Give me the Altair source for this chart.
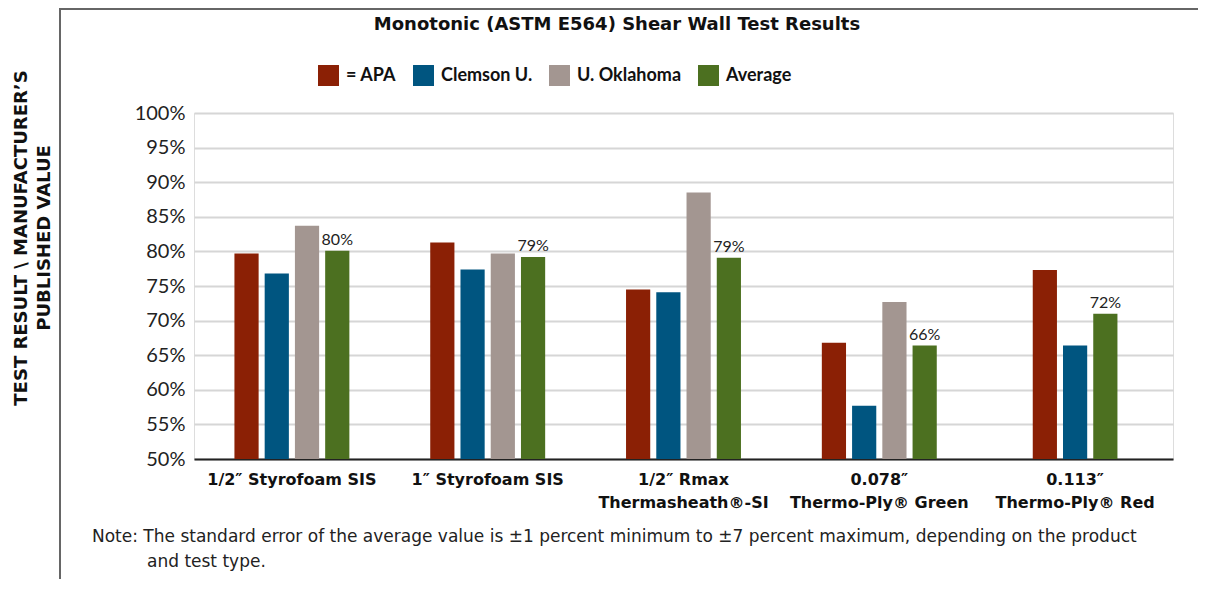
import altair as alt
import pandas as pd

# ---- data ----
groups = [
    "1/2\u2033 Styrofoam SIS",
    "1\u2033 Styrofoam SIS",
    "1/2\u2033 Rmax|Thermasheath\u00ae-SI",
    "0.078\u2033|Thermo-Ply\u00ae Green",
    "0.113\u2033|Thermo-Ply\u00ae Red",
]
series = ["APA", "Clemson U.", "U. Oklahoma", "Average"]
apa = [79.7, 81.3, 74.5, 66.8, 77.3]
clemson = [76.8, 77.4, 74.1, 57.7, 66.4]
oklahoma = [83.7, 79.7, 88.5, 72.7, None]
average = [80.1, 79.2, 79.1, 66.4, 71.0]
avg_labels = ["80%", "79%", "79%", "66%", "72%"]
colors = ["#8B2005", "#005580", "#A39691", "#4C7020"]
y_ticks = [50, 55, 60, 65, 70, 75, 80, 85, 90, 95, 100]

title_text = "Monotonic (ASTM E564) Shear Wall Test Results"
y_title = ["TEST RESULT \\ MANUFACTURER\u2019S", "PUBLISHED VALUE"]
note_line1 = "Note: The standard error of the average value is \u00b11 percent minimum to \u00b17 percent maximum, depending on the product"
note_line2 = "and test type."

FONT = "Lato"
WIDE = "DejaVu Sans"

rows = []
for i, g in enumerate(groups):
    for s, vals in zip(series, [apa, clemson, oklahoma, average]):
        v = vals[i]
        if v is None:
            continue
        rows.append({"group": g, "series": s, "value": v,
                     "label": avg_labels[i] if s == "Average" else ""})
df = pd.DataFrame(rows)
full_groups = df.groupby("group")["series"].nunique()
df["full"] = df["group"].map(lambda g: full_groups[g] == len(series))
dfA = df[df["full"]]
dfB = df[~df["full"]]
seriesB = [s for s in series if s in set(dfB["series"])]

x_enc = alt.X("group:N", sort=groups, title=None,
              scale=alt.Scale(paddingInner=0.413, paddingOuter=0.2065),
              axis=alt.Axis(labelExpr="split(datum.label, '|')", labelAngle=0,
                            labelFont=WIDE, labelFontSize=16, labelFontWeight="bold",
                            labelColor="#111", labelLineHeight=23, labelPadding=12,
                            labelLimit=400,
                            ticks=False, domainColor="#222", domainWidth=2, grid=False))
y_enc = alt.Y("value:Q", title=None,
              scale=alt.Scale(domain=[50, 100], zero=False, nice=False),
              axis=alt.Axis(values=y_ticks, labelExpr="datum.value + '%'",
                            labelFont=FONT, labelFontSize=20, labelColor="#222",
                            labelPadding=9, ticks=False, domain=False,
                            gridColor="#d6d6d6", gridWidth=2))
color_enc = alt.Color("series:N", scale=alt.Scale(domain=series, range=colors),
                      legend=alt.Legend(
                          title=None, orient="none", legendX=124, legendY=-48,
                          direction="horizontal",
                          labelExpr="datum.label == 'APA' ? '= APA' : datum.label",
                          labelFont=FONT, labelFontSize=18, labelFontWeight="bold",
                          labelColor="#111", symbolType="square", symbolSize=440,
                          symbolStrokeWidth=0, symbolOpacity=1, columnPadding=16,
                          labelOffset=7, padding=0))


def layer_for(data, dom, pad_outer):
    off = alt.XOffset("series:N", sort=dom,
                      scale=alt.Scale(domain=dom, paddingInner=0.2, paddingOuter=pad_outer))
    bars = alt.Chart(data).mark_bar().encode(
        x=x_enc, xOffset=off, y=y_enc, y2=alt.datum(50), color=color_enc)
    text = alt.Chart(data).transform_filter("datum.label != ''").mark_text(
        font=FONT, fontSize=16, color="#222", baseline="alphabetic", dy=-6
    ).encode(x=x_enc, xOffset=off, y=y_enc, text="label:N")
    return alt.layer(bars, text)


layA = layer_for(dfA, series, 0)
layB = layer_for(dfB, seriesB, 0.5)

one = pd.DataFrame({"k": [0]})
frame_top = alt.Chart(one).mark_rule(color="#666", strokeWidth=2).encode(
    x=alt.value(-134), x2=alt.value(1040), y=alt.value(-104))
frame_left = alt.Chart(one).mark_rule(color="#666", strokeWidth=2).encode(
    x=alt.value(-134), y=alt.value(-105), y2=alt.value(490))
title_mark = alt.Chart(pd.DataFrame({"t": [title_text]})).mark_text(
    font=WIDE, fontSize=18, fontWeight="bold", color="#111", baseline="middle", align="center"
).encode(x=alt.value(423), y=alt.value(-88), text="t:N")
ytitle_mark = alt.Chart(pd.DataFrame({"t": [y_title]})).mark_text(
    font=WIDE, fontSize=18, fontWeight="bold", color="#111", baseline="middle",
    align="center", angle=270, lineHeight=23
).encode(x=alt.value(-172), y=alt.value(125), text="t")
note1 = alt.Chart(pd.DataFrame({"t": [note_line1]})).mark_text(
    font=WIDE, fontSize=17, color="#222", baseline="middle", align="left"
).encode(x=alt.value(-102), y=alt.value(424), text="t:N")
note2 = alt.Chart(pd.DataFrame({"t": [note_line2]})).mark_text(
    font=WIDE, fontSize=17, color="#222", baseline="middle", align="left"
).encode(x=alt.value(-47), y=alt.value(449), text="t:N")

chart = alt.layer(
    alt.layer(layA, layB).resolve_scale(xOffset="independent"),
    frame_top, frame_left, title_mark, ytitle_mark, note1, note2,
).properties(
    width=979, height=346,
    autosize=alt.AutoSizeParams(type="none"),
    padding={"left": 186, "top": 105, "right": 25, "bottom": 120},
).configure_view(stroke=None).configure(background="white")

chart.save("out.html", embed_options={"renderer": "svg", "actions": False})
